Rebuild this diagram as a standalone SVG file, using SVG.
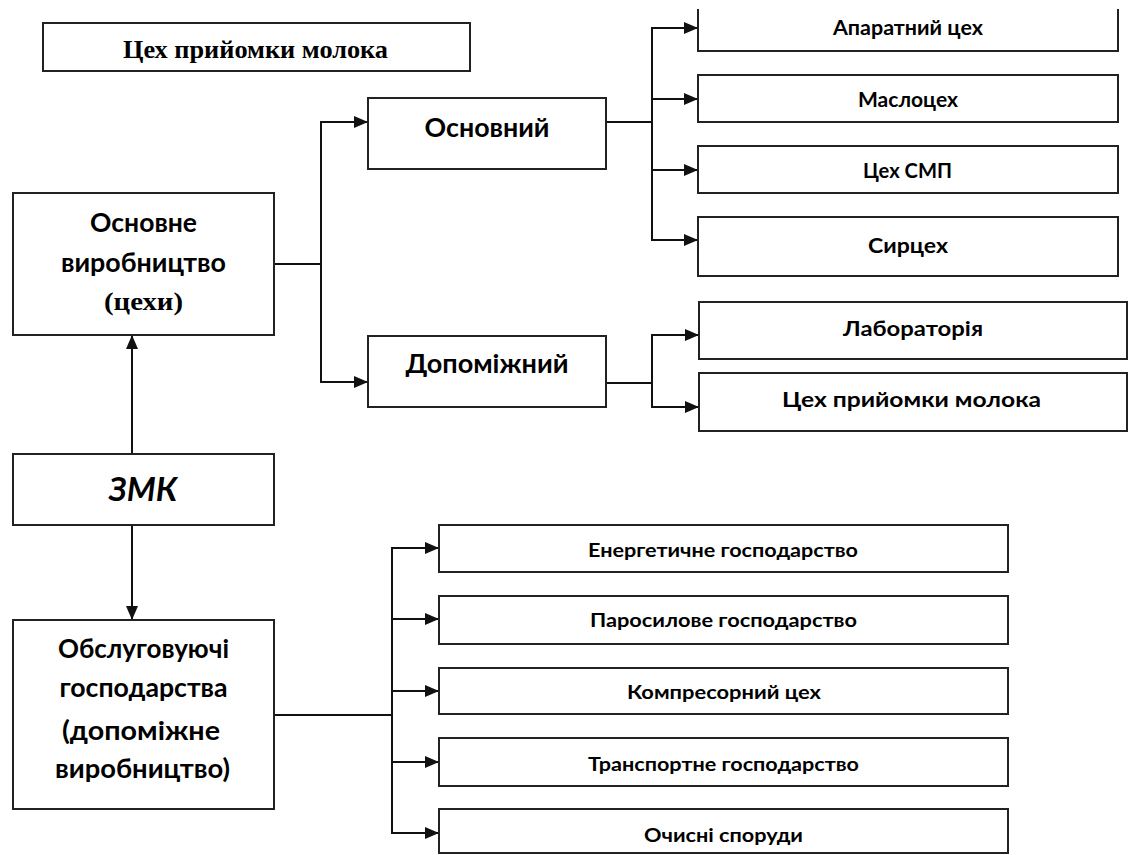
<svg xmlns="http://www.w3.org/2000/svg" width="1131" height="855" viewBox="0 0 1131 855">
<defs>
<marker id="ah" markerUnits="userSpaceOnUse" markerWidth="16" markerHeight="14" refX="14" refY="6" orient="auto">
<path d="M0,0 L14,6 L0,12 z" fill="#111"/>
</marker>
<style>
.box{fill:#fff;stroke:#222;stroke-width:2}
.ln{fill:none;stroke:#111;stroke-width:2}
.ar{fill:none;stroke:#111;stroke-width:2;marker-end:url(#ah)}
text{font-family:Lato,"Open Sans","Liberation Sans",sans-serif;font-weight:bold;fill:#000;text-anchor:middle}
.serif{font-family:"Liberation Serif",serif}
.big{font-size:26px}
.mid{font-size:21px}
.sm{font-size:18px}
</style>
</defs>
<rect width="1131" height="855" fill="#fff"/>
<g id="connectors">
<path class="ln" d="M274,264 H321"/>
<path class="ar" d="M321,264 V122 H368"/>
<path class="ar" d="M321,264 V382 H368"/>
<path class="ln" d="M606,122 H652"/>
<path class="ar" d="M652,122 V28 H698"/>
<path class="ar" d="M652,99 H698"/>
<path class="ar" d="M652,170 H698"/>
<path class="ar" d="M652,122 V240 H698"/>
<path class="ln" d="M606,383 H652"/>
<path class="ar" d="M652,383 V335 H699"/>
<path class="ar" d="M652,383 V407 H699"/>
<path class="ar" d="M132,454 V335"/>
<path class="ar" d="M132,525 V620"/>
<path class="ln" d="M274,715 H392"/>
<path class="ar" d="M392,715 V548 H439"/>
<path class="ar" d="M392,619 H439"/>
<path class="ar" d="M392,691 H439"/>
<path class="ar" d="M392,762 H439"/>
<path class="ar" d="M392,715 V833 H439"/>
</g>
<g id="n-title"><rect class="box" x="43" y="23" width="427" height="48"/><text class="serif" x="255.5" y="58" font-size="26" textLength="265" lengthAdjust="spacingAndGlyphs">Цех прийомки молока</text></g>
<g id="n-osnovne"><rect class="box" x="13" y="193" width="261" height="142"/>
<text class="big" x="143.5" y="232" textLength="107" lengthAdjust="spacingAndGlyphs">Основне</text>
<text class="big" x="143.5" y="272" textLength="165" lengthAdjust="spacingAndGlyphs">виробництво</text>
<text class="serif" x="143.5" y="310" font-size="26" textLength="79" lengthAdjust="spacingAndGlyphs">(цехи)</text></g>
<g id="n-osnovnyi"><rect class="box" x="368" y="98" width="238" height="71"/><text class="big" x="487" y="137" textLength="125" lengthAdjust="spacingAndGlyphs">Основний</text></g>
<g id="n-dopomizhnyi"><rect class="box" x="368" y="336" width="238" height="71"/><text class="big" x="487" y="373" textLength="163" lengthAdjust="spacingAndGlyphs">Допоміжний</text></g>
<g id="n-zmk"><rect class="box" x="13" y="454" width="261" height="71"/><text x="143" y="501" font-size="33" font-style="italic">ЗМК</text></g>
<g id="n-obslug"><rect class="box" x="13" y="620" width="261" height="189"/>
<text class="big" x="143.5" y="658" textLength="171" lengthAdjust="spacingAndGlyphs">Обслуговуючі</text>
<text class="big" x="143.5" y="697" textLength="168" lengthAdjust="spacingAndGlyphs">господарства</text>
<text class="big" x="141" y="740" textLength="158" lengthAdjust="spacingAndGlyphs">(допоміжне</text>
<text class="big" x="142.5" y="778" textLength="175" lengthAdjust="spacingAndGlyphs">виробництво)</text></g>
<g id="n-aparat"><path class="box" d="M698,9 V51 H1118 V9"/><text class="mid" x="908" y="35" textLength="150" lengthAdjust="spacingAndGlyphs">Апаратний цех</text></g>
<g id="n-maslo"><rect class="box" x="698" y="75" width="420" height="47"/><text class="mid" x="908" y="107" textLength="100" lengthAdjust="spacingAndGlyphs">Маслоцех</text></g>
<g id="n-smp"><rect class="box" x="698" y="146" width="420" height="47"/><text class="mid" x="907.5" y="178" textLength="89" lengthAdjust="spacingAndGlyphs">Цех СМП</text></g>
<g id="n-syr"><rect class="box" x="698" y="217" width="420" height="59"/><text class="mid" x="908" y="253" textLength="80" lengthAdjust="spacingAndGlyphs">Сирцех</text></g>
<g id="n-lab"><rect class="box" x="699" y="302" width="428" height="57"/><text class="mid" x="913" y="336" textLength="140" lengthAdjust="spacingAndGlyphs">Лабораторія</text></g>
<g id="n-pryiom"><rect class="box" x="699" y="373" width="428" height="58"/><text class="mid" x="911.5" y="407" textLength="259" lengthAdjust="spacingAndGlyphs">Цех прийомки молока</text></g>
<g id="n-energ"><rect class="box" x="439" y="525" width="569" height="47"/><text class="sm" x="723" y="557" textLength="270" lengthAdjust="spacingAndGlyphs">Енергетичне господарство</text></g>
<g id="n-paro"><rect class="box" x="439" y="596" width="569" height="48"/><text class="sm" x="723.5" y="627" textLength="267" lengthAdjust="spacingAndGlyphs">Паросилове господарство</text></g>
<g id="n-kompr"><rect class="box" x="439" y="668" width="569" height="46"/><text class="sm" x="724" y="699" textLength="194" lengthAdjust="spacingAndGlyphs">Компресорний цех</text></g>
<g id="n-transp"><rect class="box" x="439" y="738" width="569" height="48"/><text class="sm" x="723.5" y="771" textLength="271" lengthAdjust="spacingAndGlyphs">Транспортне господарство</text></g>
<g id="n-ochys"><rect class="box" x="439" y="809" width="569" height="44"/><text class="sm" x="723.5" y="842" textLength="159" lengthAdjust="spacingAndGlyphs">Очисні споруди</text></g>
</svg>
